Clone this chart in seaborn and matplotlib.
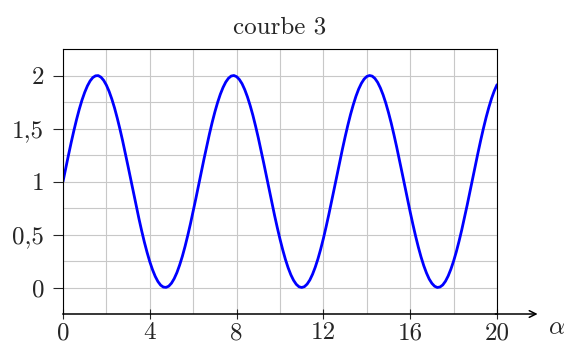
import pandas as pd
import matplotlib.pyplot as plt
import matplotlib.ticker as mticker
import seaborn as sns

# valeurs (pas de 0,125)
alpha = [i * 0.125 for i in range(161)]
valeurs = [
    1.000, 1.125, 1.247, 1.366, 1.479, 1.585, 1.682, 1.768,
    1.841, 1.902, 1.949, 1.981, 1.997, 1.999, 1.984, 1.954,
    1.909, 1.850, 1.778, 1.694, 1.598, 1.494, 1.382, 1.263,
    1.141, 1.017, 0.892, 0.769, 0.649, 0.535, 0.428, 0.331,
    0.243, 0.168, 0.105, 0.056, 0.022, 0.004, 0.001, 0.013,
    0.041, 0.084, 0.141, 0.212, 0.294, 0.388, 0.492, 0.603,
    0.721, 0.842, 0.967, 1.092, 1.215, 1.335, 1.450, 1.558,
    1.657, 1.746, 1.823, 1.887, 1.938, 1.974, 1.995, 2.000,
    1.989, 1.963, 1.923, 1.867, 1.798, 1.717, 1.625, 1.522,
    1.412, 1.295, 1.174, 1.050, 0.925, 0.801, 0.680, 0.565,
    0.456, 0.356, 0.265, 0.186, 0.120, 0.068, 0.030, 0.007,
    0.000, 0.008, 0.032, 0.071, 0.125, 0.192, 0.271, 0.362,
    0.463, 0.573, 0.689, 0.810, 0.934, 1.059, 1.183, 1.304,
    1.420, 1.530, 1.632, 1.723, 1.804, 1.872, 1.926, 1.966,
    1.991, 2.000, 1.994, 1.972, 1.935, 1.883, 1.818, 1.740,
    1.650, 1.551, 1.442, 1.327, 1.206, 1.083, 0.958, 0.834,
    0.712, 0.595, 0.484, 0.381, 0.288, 0.206, 0.137, 0.080,
    0.039, 0.012, 0.000, 0.005, 0.024, 0.059, 0.109, 0.173,
    0.249, 0.337, 0.436, 0.543, 0.658, 0.777, 0.901, 1.025,
    1.150, 1.272, 1.390, 1.502, 1.606, 1.700, 1.784, 1.855,
    1.913,
]
xticks = [0, 4, 8, 12, 16, 20]
yticks = [0, 0.5, 1, 1.5, 2]
ylabels = ["0", "0,5", "1", "1,5", "2"]

df = pd.DataFrame({"alpha": alpha, "y": valeurs})

sns.set_style("white")
plt.rcParams["font.family"] = ["cmr10", "DejaVu Serif"]
plt.rcParams["mathtext.fontset"] = "cm"
plt.rcParams["axes.formatter.use_mathtext"] = True

fig = plt.figure(figsize=(5.66, 3.49), dpi=100)
ax = fig.add_axes([63 / 566, 1 - 314 / 349, 434 / 566, 265 / 349])

sns.lineplot(data=df, x="alpha", y="y", color="#0000ff", linewidth=2, sort=False, ax=ax)

ax.set_xlim(0, 20)
ax.set_ylim(-0.25, 2.25)
ax.set_xticks(xticks)
ax.set_xticklabels([str(t) for t in xticks])
ax.set_yticks(yticks)
ax.set_yticklabels(ylabels)
ax.xaxis.set_minor_locator(mticker.MultipleLocator(2))
ax.yaxis.set_minor_locator(mticker.MultipleLocator(0.25))
ax.grid(which="both", color="#c8c8c8", linewidth=0.8)
ax.tick_params(which="minor", length=0)
ax.tick_params(axis="x", which="major", direction="inout", length=7.5, width=0.8, labelsize=18, pad=2)
ax.tick_params(axis="y", which="major", direction="out", length=7.5, width=0.8, labelsize=18, pad=6)
ax.tick_params(bottom=True, left=True)
for s in ax.spines.values():
    s.set_color("black")
    s.set_linewidth(0.8)
ax.spines["bottom"].set_linewidth(1.1)
ax.set_xlabel("")
ax.set_ylabel("")

# axe des x prolonge par une fleche
ax.annotate("", xy=(1.1, 0), xytext=(0.99, 0), xycoords="axes fraction",
            arrowprops=dict(arrowstyle="->", color="black", lw=1.1, mutation_scale=12))
ax.text(1.137, -0.053, r"$\alpha$", transform=ax.transAxes, fontsize=18, ha="center", va="center")

ax.set_title("courbe 3", fontsize=18, pad=11)

fig.savefig("out.png", dpi=100)
